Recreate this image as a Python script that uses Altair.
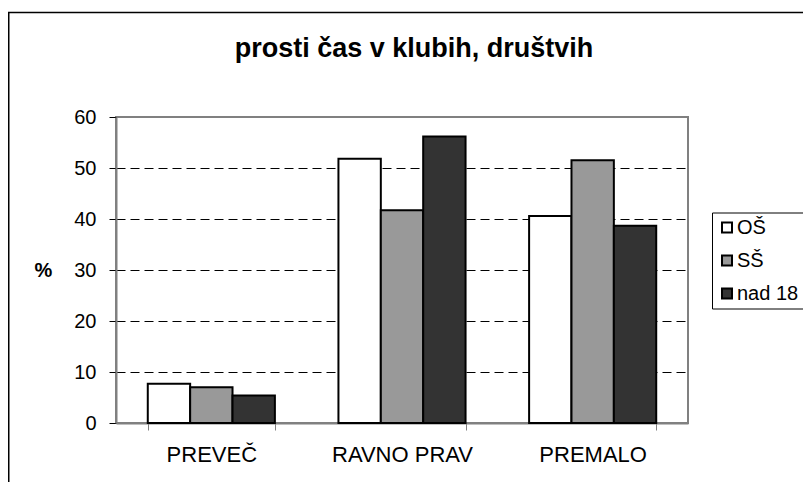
import altair as alt
import pandas as pd

categories = ["PREVEČ", "RAVNO PRAV", "PREMALO"]
groups = ["OŠ", "SŠ", "nad 18"]
os_vals = [7.7, 51.8, 40.6]
ss_vals = [7.0, 41.7, 51.5]
nad18_vals = [5.4, 56.2, 38.7]
colors = ["#ffffff", "#999999", "#333333"]
title_text = "prosti čas v klubih, društvih"
y_title = "%"
y_ticks = [0, 10, 20, 30, 40, 50, 60]

rows = []
for g, vals in zip(groups, [os_vals, ss_vals, nad18_vals]):
    for c, v in zip(categories, vals):
        rows.append({"kategorija": c, "skupina": g, "vrednost": v})
df = pd.DataFrame(rows)

W, H = 572, 306
PL, PT = 108, 109
FONT = "Liberation Sans"

bars = alt.Chart(df).mark_bar(stroke="black", strokeWidth=2, strokeJoin="miter").encode(
    x=alt.X("kategorija:N", sort=categories,
            scale=alt.Scale(paddingInner=1/3, paddingOuter=1/6),
            axis=alt.Axis(title=None, labelAngle=0, labelFontSize=22, labelFont=FONT,
                          labelColor="black", domainColor="#808080", domainWidth=2,
                          tickColor="#808080", tickSize=7, tickWidth=1, tickBand="extent",
                          labelPadding=14, grid=False)),
    xOffset=alt.XOffset("skupina:N", sort=groups,
                        scale=alt.Scale(paddingInner=0, paddingOuter=0)),
    y=alt.Y("vrednost:Q", scale=alt.Scale(domain=[0, 60], nice=False),
            axis=alt.Axis(values=y_ticks, title=y_title, titleAngle=0, titleFont=FONT,
                          titleFontSize=20, titleFontWeight="bold", titleX=-73, titleY=153,
                          titleAlign="center", titleBaseline="middle", titleColor="black",
                          labelFontSize=20, labelFont=FONT, labelColor="black", labelPadding=13,
                          tickSize=7, tickColor="black", tickWidth=1,
                          domainColor="#808080", domainWidth=2,
                          grid=True, gridColor="black", gridDash=[9, 5], gridWidth=1,
                          gridOpacity={"condition": {"test": "datum.value === 0 || datum.value === 60", "value": 0}, "value": 1})),
    color=alt.Color("skupina:N", sort=groups,
                    scale=alt.Scale(domain=groups, range=colors),
                    legend=alt.Legend(title=None, orient="none", legendX=596, legendY=95.5,
                                      strokeColor="black", fillColor="white", padding=5,
                                      labelFontSize=20, labelFont=FONT, labelColor="black",
                                      symbolType="square", symbolSize=100,
                                      symbolStrokeColor="black", symbolStrokeWidth=2,
                                      rowPadding=13, labelOffset=0)),
)

frame = alt.Chart(pd.DataFrame({"f": [0]})).mark_rect(
    fillOpacity=0, stroke="black", strokeWidth=1.5
).encode(
    x=alt.value(-PL + 0.75), x2=alt.value(W + 300),
    y=alt.value(-104.5), y2=alt.value(H + 300)
)

title = alt.Chart(pd.DataFrame({"t": [title_text]})).mark_text(
    font=FONT, fontSize=27, fontWeight="bold", align="center", baseline="alphabetic", color="black"
).encode(x=alt.value(298), y=alt.value(-60), text="t:N")

chart = alt.layer(frame, bars, title).properties(
    width=W, height=H,
    autosize=alt.AutoSizeParams(type="none"),
    padding={"left": PL, "top": PT, "right": 795 - PL - W, "bottom": 474 - PT - H},
    background="white",
).configure_view(stroke="#808080", strokeWidth=2)

chart.save("out.html", embed_options={"renderer": "svg", "actions": False})
